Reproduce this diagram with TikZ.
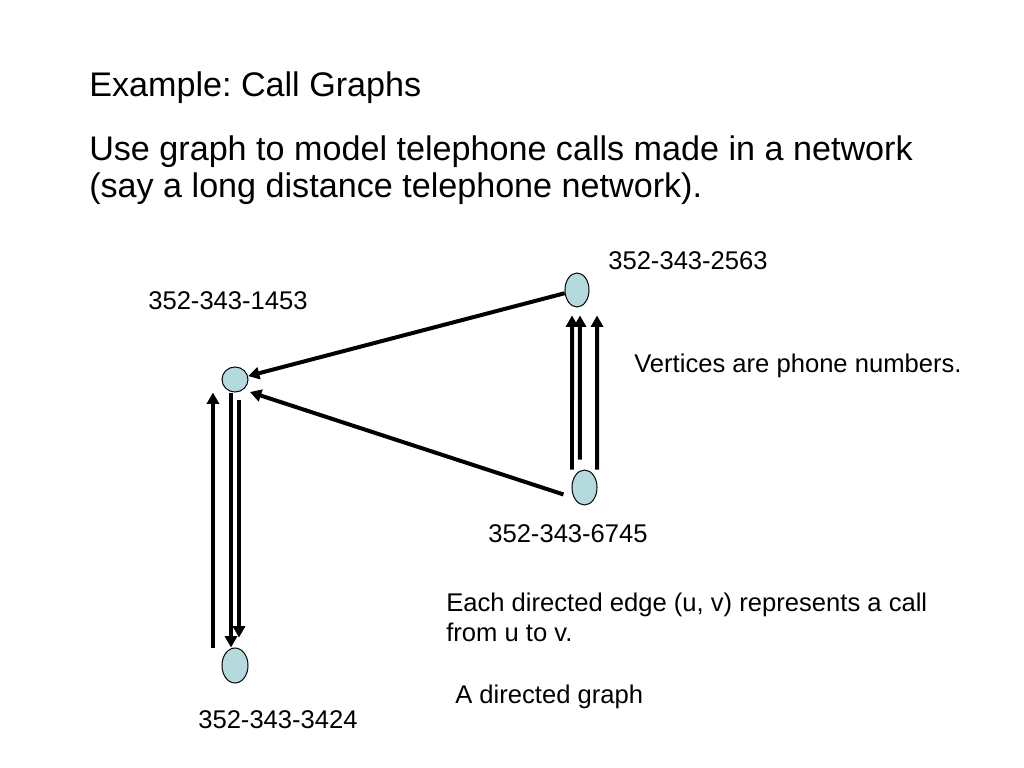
\documentclass[tikz,border=0pt]{standalone}
\usepackage{fontspec}
\setmainfont{Liberation Sans}
\usepackage{tikz}
\usetikzlibrary{arrows.meta,shapes.geometric}
\usepackage{xcolor}
\definecolor{vxblue}{RGB}{180,218,222}
\tikzstyle{vertex} = [ellipse,draw=black,line width=0.7pt,fill=vxblue,inner sep=0pt]
\tikzstyle{call} = [line width=2.8pt,-{Triangle[length=8pt,width=8.5pt]}]
\tikzstyle{txt} = [anchor=base west,inner sep=0pt]
\frenchspacing

\begin{document}
\begin{tikzpicture}[x=0.703125pt,y=-0.703125pt]
\useasboundingbox[fill=white] (0,0) rectangle (1024,768);

% Heading
\node[txt,font=\fontsize{24}{26}\selectfont] (title) at (89,97) {Example: Call Graphs};
\node[txt,font=\fontsize{24}{26}\selectfont] (intro1) at (89,161) {Use graph to model telephone calls made in a network};
\node[txt,font=\fontsize{24}{26}\selectfont] (intro2) at (89,198) {(say a long distance telephone network).};

% Vertices
\node[vertex,minimum width=18.3pt,minimum height=17.6pt] (v1453) at (235,379.5) {};
\node[vertex,minimum width=16.9pt,minimum height=23.9pt] (v2563) at (577,290) {};
\node[vertex,minimum width=17.6pt,minimum height=24.6pt] (v6745) at (584.5,487.5) {};
\node[vertex,minimum width=18.3pt,minimum height=24.6pt] (v3424) at (235,665.5) {};

% Phone numbers
\node[txt,font=\fontsize{18}{20}\selectfont] (l1453) at (148,310) {352-343-1453};
\node[txt,font=\fontsize{18}{20}\selectfont] (l2563) at (608,270) {352-343-2563};
\node[txt,font=\fontsize{18}{20}\selectfont] (l6745) at (488,542) {352-343-6745};
\node[txt,font=\fontsize{18}{20}\selectfont] (l3424) at (198,728) {352-343-3424};

% Calls
\draw[call] (v2563) -- (v1453);
\draw[call] ([xshift=-14.8pt,yshift=-4.9pt]v6745.center) -- ([xshift=10.5pt,yshift=-8.8pt]v1453.center);
\draw[call] ([xshift=-15.5pt]v3424.north) -- ([xshift=-15.5pt]v1453.south);
\draw[call] ([xshift=-2.8pt]v1453.south) -- ([xshift=-2.8pt]v3424.north);
\draw[call] ([xshift=2.8pt,yshift=-5.6pt]v1453.south) -- ([xshift=2.8pt,yshift=7pt]v3424.north);
\draw[call] ([xshift=-8.8pt]v6745.north) -- ([xshift=-3.5pt,yshift=-5.6pt]v2563.south);
\draw[call] ([xshift=-3.2pt,yshift=7pt]v6745.north) -- ([xshift=2.1pt,yshift=-5.6pt]v2563.south);
\draw[call] ([xshift=8.8pt]v6745.north) -- ([xshift=14.1pt,yshift=-5.6pt]v2563.south);

% Notes
\node[txt,font=\fontsize{18}{20}\selectfont] (vnote) at (634,372) {Vertices are phone numbers.};
\node[txt,font=\fontsize{18}{20}\selectfont] (enote1) at (446,611) {Each directed edge (u, v) represents a call};
\node[txt,font=\fontsize{18}{20}\selectfont] (enote2) at (446,641) {from u to v.};
\node[txt,font=\fontsize{18}{20}\selectfont] (gnote) at (455,703) {A directed graph};
\end{tikzpicture}
\end{document}
